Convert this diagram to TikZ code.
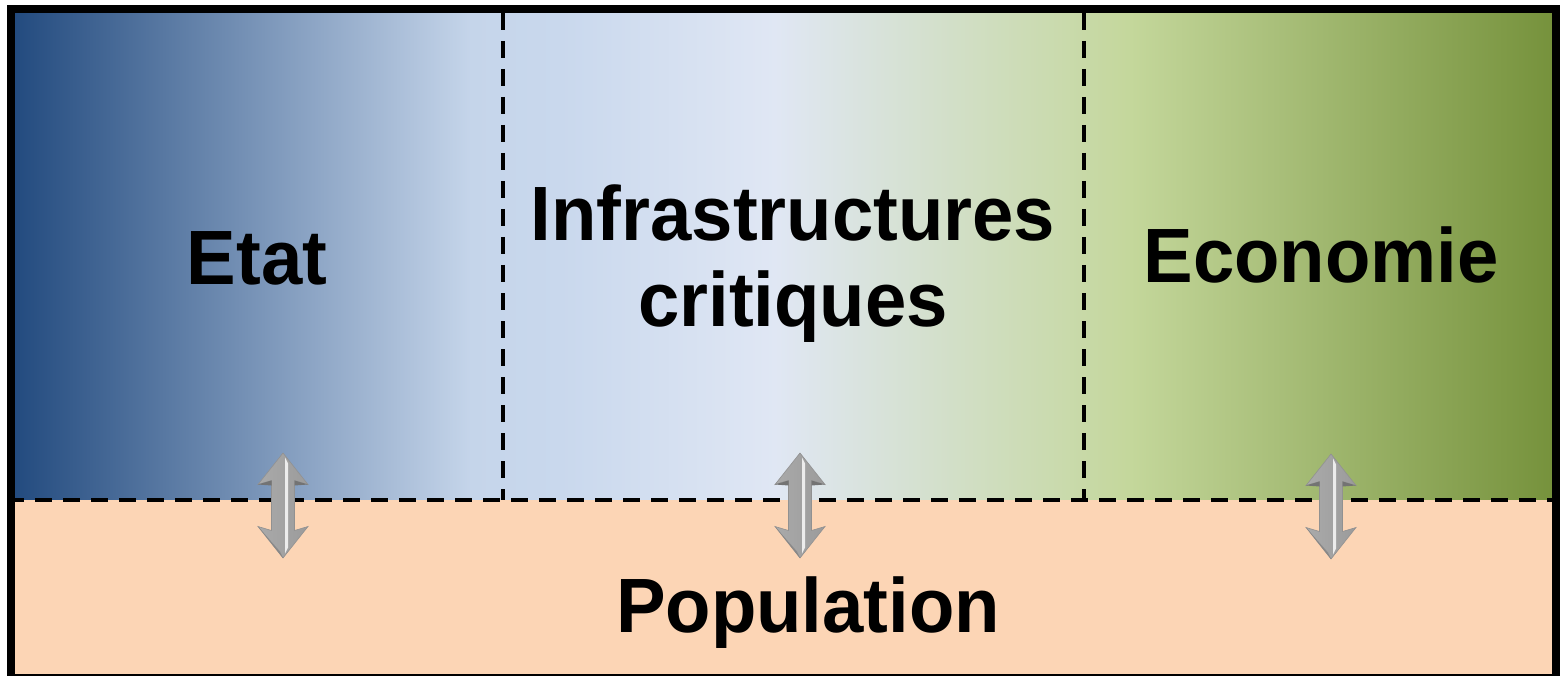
\documentclass[tikz,border=0pt]{standalone}
\usepackage{fontspec}
\setmainfont{Liberation Sans}
\newfontfamily\lblfont{Liberation Sans}[FakeStretch=0.965]
\definecolor{c0}{RGB}{35,75,127}
\definecolor{c1}{RGB}{197,213,234}
\definecolor{c2}{RGB}{201,216,237}
\definecolor{c3}{RGB}{224,231,244}
\definecolor{c4}{RGB}{196,215,155}
\definecolor{c5}{RGB}{118,146,60}
\definecolor{peach}{RGB}{252,213,181}
\definecolor{argrayA}{RGB}{170,170,170}
\definecolor{argrayB}{RGB}{155,155,155}
\definecolor{argrayC}{RGB}{115,115,115}
\definecolor{arrowedge}{RGB}{145,145,145}
\begin{document}
\begin{tikzpicture}[x=1pt,y=-1pt,
  txt/.style={font=\lblfont\fontsize{77}{86}\selectfont\bfseries, inner sep=0pt, align=center},
  divider/.style={line width=4pt, dash pattern=on 17pt off 11pt},
  frame/.style={line width=8pt, draw=black},
  band/.style={draw=none},
  dblarrow/.pic={
    \path[left color=argrayA, middle color=white, right color=argrayB, draw=arrowedge, line width=0.6pt]
      (0,-52.5) -- (25,-21) -- (11.5,-25) -- (11.5,25) -- (25,21) -- (0,52.5)
      -- (-25,21) -- (-11.5,25) -- (-11.5,-25) -- (-25,-21) -- cycle;
    \fill[argrayC] (-25,-21) -- (-11.5,-25) -- (-11.5,-20) -- cycle;
    \fill[argrayC] (25,-21) -- (11.5,-25) -- (11.5,-20) -- cycle;
    \fill[argrayC, opacity=0.5] (-25,21) -- (0,52.5) -- (-3,46) -- cycle;
    \fill[white, opacity=0.8] (2,-48) -- (2,48) -- (5,42) -- (5,-42) -- cycle;
  }]
\useasboundingbox (0,0) rectangle (1560,676);
\clip (0,0) rectangle (1560,676);
% top gradient
\shade[band, left color=c0, right color=c1] (15,13) rectangle (471,500);
\shade[band, left color=c1, right color=c2] (470,13) rectangle (561,500);
\shade[band, left color=c2, right color=c3] (560,13) rectangle (776,500);
\shade[band, left color=c3, right color=c4] (775,13) rectangle (1131,500);
\shade[band, left color=c4, right color=c5] (1130,13) rectangle (1552,500);
% bottom
\fill[peach] (15,500) rectangle (1552,676);
% dividers
\coordinate (hl) at (15,500);
\coordinate (hr) at (1552,500);
\coordinate (v1t) at (503,13);
\coordinate (v1b) at (503,500);
\coordinate (v2t) at (1084,13);
\coordinate (v2b) at (1084,500);
\draw[divider, dash phase=8pt] (hl) -- (hr);
\draw[divider] (v1t) -- (v1b);
\draw[divider] (v2t) -- (v2b);
% arrows
\pic (a1) at (283,505.5) {dblarrow};
\pic (a2) at (800,505.5) {dblarrow};
\pic (a3) at (1331,506.5) {dblarrow};
% texts
\node[txt, anchor=base] (etat) at (257,284) {Etat};
\node[txt] (infra) at (793,264) {Infrastructures\\critiques};
\node[txt, anchor=base] (eco) at (1321,283) {Economie};
\node[txt, anchor=base] (pop) at (808,632) {Population};
% frame
\draw[frame] (11,9) rectangle (1556,678);
\end{tikzpicture}
\end{document}
